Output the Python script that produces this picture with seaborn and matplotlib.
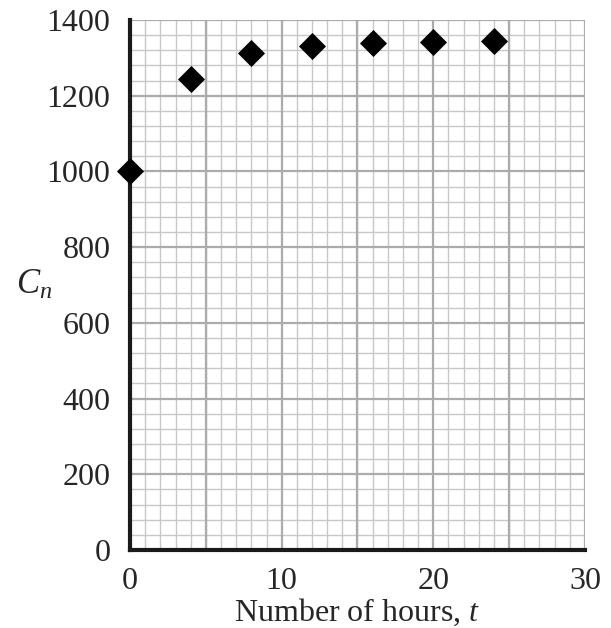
import numpy as np
import pandas as pd
import matplotlib
matplotlib.use("Agg")
import matplotlib.pyplot as plt
import seaborn as sns
from matplotlib.ticker import MultipleLocator

# data
hours = [0, 4, 8, 12, 16, 20, 24]
cn = [1000, 1245, 1313, 1330, 1339, 1343, 1345]
x_ticks = [0, 10, 20, 30]
y_ticks = [0, 200, 400, 600, 800, 1000, 1200, 1400]

df = pd.DataFrame({"t": hours, "Cn": cn})

sns.set_style("white")
plt.rcParams["font.family"] = ["Liberation Serif", "DejaVu Serif"]
plt.rcParams["mathtext.fontset"] = "custom"
plt.rcParams["mathtext.it"] = "Liberation Serif:italic"
plt.rcParams["mathtext.rm"] = "Liberation Serif"

fig = plt.figure(figsize=(6.11, 6.28), dpi=100)
ax = fig.add_axes([0.2128, 0.1242, 0.7446, 0.8440])

ax.set_xlim(0, 30)
ax.set_ylim(0, 1400)

# graph paper grid
ax.xaxis.set_minor_locator(MultipleLocator(1))
ax.yaxis.set_minor_locator(MultipleLocator(40))
ax.grid(which="minor", color="#c8c8c8", linewidth=1.0)
for v in [5, 10, 15, 20, 25, 30]:
    ax.axvline(v, color="#ababab", linewidth=1.6, zorder=0.6)
for v in [200, 400, 600, 800, 1000, 1200, 1400]:
    ax.axhline(v, color="#ababab", linewidth=1.6, zorder=0.6)
ax.set_axisbelow(True)

sns.scatterplot(data=df, x="t", y="Cn", marker="D", s=190, color="black",
                edgecolor="black", linewidth=0, ax=ax, zorder=5, clip_on=False)

ax.set_xticks(x_ticks)
ax.set_yticks(y_ticks)
ax.tick_params(axis="both", which="major", labelsize=23, length=8, width=1.2,
               color="black", direction="out")
ax.tick_params(axis="x", pad=4)
ax.tick_params(axis="y", pad=6)
ax.tick_params(axis="both", which="minor", length=0)

for s in ["top", "right"]:
    ax.spines[s].set_visible(False)
for s in ["left", "bottom"]:
    ax.spines[s].set_linewidth(3)
    ax.spines[s].set_color("#1a1a1a")
    ax.spines[s].set_zorder(4)

ax.set_xlabel("Number of hours, $t$", fontsize=23, labelpad=1)
ax.set_ylabel("$C_n$", fontsize=25, rotation=0, va="center", ha="center")
ax.yaxis.set_label_coords(-0.21, 0.5)

fig.savefig("out.png", dpi=100)
